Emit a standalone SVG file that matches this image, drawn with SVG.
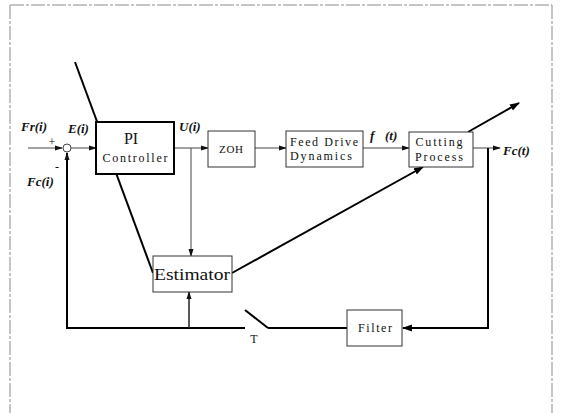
<svg xmlns="http://www.w3.org/2000/svg" width="561" height="413" viewBox="0 0 561 413">
<style>
.frame{fill:none;stroke:#8a8a8a;stroke-width:1;stroke-dasharray:14 2 3 2}
.box{fill:#fff;stroke:#333;stroke-width:1}
.pi{fill:#fff;stroke:#000;stroke-width:2}
.thin{fill:none;stroke:#444;stroke-width:1}
.thick{fill:none;stroke:#000;stroke-width:2}
.mid{fill:none;stroke:#222;stroke-width:1.5}
.t{font-family:"Liberation Serif",serif;fill:#111}
.lab{font-family:"Liberation Serif",serif;font-style:italic;font-weight:bold;font-size:13px;fill:#111}
</style>
<defs>
<marker id="ah" markerWidth="8" markerHeight="6" refX="7" refY="3" orient="auto" markerUnits="userSpaceOnUse">
<path d="M0,0.5 L8,3 L0,5.5 z" fill="#111"/>
</marker>
<marker id="ahb" markerWidth="10" markerHeight="8" refX="9" refY="4" orient="auto" markerUnits="userSpaceOnUse">
<path d="M0,0.5 L10,4 L0,7.5 z" fill="#000"/>
</marker>
</defs>
<rect width="561" height="413" fill="#fff"/>
<g id="frame">
<line class="frame" x1="10" y1="5" x2="552" y2="5"/>
<line class="frame" x1="10" y1="5" x2="10" y2="413"/>
<line class="frame" x1="552" y1="5" x2="552" y2="413"/>
</g>
<g id="connectors">
<line class="thin" x1="28" y1="148" x2="62" y2="148" marker-end="url(#ah)"/>
<line class="thin" x1="71" y1="148" x2="96" y2="148" marker-end="url(#ah)"/>
<line class="thin" x1="174" y1="148" x2="208" y2="148" marker-end="url(#ah)"/>
<line class="thin" x1="191" y1="148" x2="191" y2="256" marker-end="url(#ah)"/>
<line class="thin" x1="255" y1="148" x2="286" y2="148" marker-end="url(#ah)"/>
<line class="thin" x1="363" y1="148" x2="409" y2="148" marker-end="url(#ah)"/>
<line class="thin" x1="473" y1="148" x2="500" y2="148" marker-end="url(#ah)"/>
<polyline class="thick" points="488,148 488,328 403,328" marker-end="url(#ahb)"/>
<line class="thick" x1="347" y1="328" x2="268" y2="328"/>
<line class="thick" x1="268" y1="328" x2="245" y2="310"/>
<polyline class="thick" points="245,328 67,328 67,153" marker-end="url(#ah)"/>
<line class="mid" x1="189" y1="328" x2="189" y2="292" marker-end="url(#ah)"/>
<line class="thick" x1="153" y1="273" x2="75" y2="62"/>
<line class="thick" x1="232" y1="273" x2="423" y2="167" marker-end="url(#ahb)"/>
<line class="thick" x1="468" y1="132" x2="519" y2="103" marker-end="url(#ahb)"/>
</g>
<g id="sum">
<circle cx="67" cy="148" r="4" fill="#fff" stroke="#444" stroke-width="1"/>
<text class="t" x="52" y="146" font-size="12" text-anchor="middle">+</text>
<text class="t" x="57" y="171" font-size="12" text-anchor="middle">-</text>
</g>
<g id="pi">
<rect class="pi" x="96" y="122" width="78" height="52"/>
<text class="t" x="131" y="144" font-size="16" text-anchor="middle">PI</text>
<text class="t" x="135" y="162" font-size="12" text-anchor="middle" textLength="65" lengthAdjust="spacing">Controller</text>
</g>
<g id="zoh">
<rect class="box" x="208" y="131" width="47" height="36"/>
<text class="t" x="231" y="153" font-size="11" text-anchor="middle" textLength="24" lengthAdjust="spacing">ZOH</text>
</g>
<g id="feed">
<rect class="box" x="286" y="131" width="77" height="36"/>
<text class="t" x="324" y="146" font-size="12" text-anchor="middle" textLength="68" lengthAdjust="spacing">Feed Drive</text>
<text class="t" x="321" y="160" font-size="12" text-anchor="middle" textLength="62" lengthAdjust="spacing">Dynamics</text>
</g>
<g id="cutting">
<rect class="box" x="409" y="132" width="64" height="35"/>
<text class="t" x="439" y="146" font-size="12" text-anchor="middle" textLength="47" lengthAdjust="spacing">Cutting</text>
<text class="t" x="439" y="161" font-size="12" text-anchor="middle" textLength="48" lengthAdjust="spacing">Process</text>
</g>
<g id="estimator">
<rect class="box" x="153" y="256" width="79" height="36"/>
<text class="t" x="192" y="280" font-size="17" text-anchor="middle" textLength="76" lengthAdjust="spacingAndGlyphs">Estimator</text>
</g>
<g id="filter">
<rect class="box" x="347" y="310" width="55" height="36"/>
<text class="t" x="375" y="332" font-size="12" text-anchor="middle" textLength="34" lengthAdjust="spacing">Filter</text>
</g>
<g id="labels">
<text class="lab" x="21" y="131">Fr(i)</text>
<text class="lab" x="68" y="133">E(i)</text>
<text class="lab" x="27" y="186">Fc(i)</text>
<text class="lab" x="179" y="131" font-weight="normal">U(i)</text>
<text class="lab" x="370" y="140" font-size="15">f<tspan x="385">(t)</tspan></text>
<text class="lab" x="503" y="155">Fc(t)</text>
<text class="t" x="254" y="343" font-size="12" text-anchor="middle">T</text>
</g>
</svg>
